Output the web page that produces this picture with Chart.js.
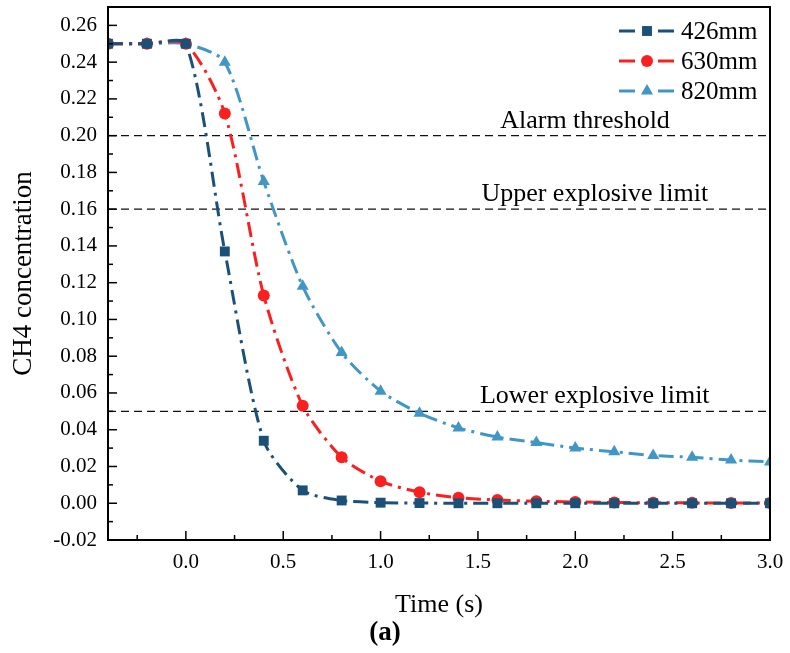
<!DOCTYPE html>
<html>
<head>
<meta charset="utf-8">
<script src="https://cdn.jsdelivr.net/npm/chart.js@4/dist/chart.umd.min.js"></script>
<style>
  html, body { margin: 0; padding: 0; background: #fff; }
  #wrap { width: 790px; height: 653px; }
</style>
</head>
<body>
<div id="wrap"><canvas id="grafico"></canvas></div>
<script>
// tiempos (s)
var tiempos = [-0.4, -0.2, 0.0, 0.2, 0.4, 0.6, 0.8, 1.0, 1.2, 1.4, 1.6, 1.8, 2.0, 2.2, 2.4, 2.6, 2.8, 3.0];
var serie426 = [0.250, 0.250, 0.250, 0.137, 0.034, 0.007, 0.0015, 0.0003, 0.0001, 0, 0, 0, 0, 0, 0, 0, 0, 0];
var serie630 = [0.250, 0.250, 0.250, 0.212, 0.113, 0.053, 0.025, 0.012, 0.006, 0.003, 0.0018, 0.0011, 0.0007, 0.0004, 0.0003, 0.0002, 0.0001, 0.0001];
var serie820 = [0.250, 0.250, 0.250, 0.240, 0.175, 0.118, 0.082, 0.061, 0.049, 0.041, 0.036, 0.033, 0.030, 0.028, 0.026, 0.025, 0.0235, 0.0225];
var etiquetas = ['426mm', '630mm', '820mm'];
var umbrales = [0.20, 0.16, 0.05];
var nombresUmbral = ['Alarm threshold', 'Upper explosive limit', 'Lower explosive limit'];
var xEtiquetaUmbral = [2.05, 2.1, 2.1];

var fuente = 'Liberation Serif, Times New Roman, serif';

function puntos(valores) {
    var res = [];
    for (var i = 0; i < tiempos.length; i++) {
        res.push({ x: tiempos[i], y: valores[i] });
    }
    return res;
}

function lineaUmbral(v) {
    return {
        data: [{ x: -0.4, y: v }, { x: 3.0, y: v }],
        borderColor: '#111',
        borderWidth: 1.3,
        borderDash: [8, 5],
        pointRadius: 0,
        tension: 0
    };
}

function serie(nombre, valores, color, estilo, radio) {
    return {
        label: nombre,
        data: puntos(valores),
        borderColor: color,
        backgroundColor: color,
        borderWidth: 3,
        borderDash: [15, 6, 3, 6],
        pointStyle: estilo,
        pointRadius: radio,
        pointBorderWidth: 0,
        tension: 0.25
    };
}

// marcas hacia adentro, marco y leyenda
var pluginDecoracion = {
    id: 'decoracion',
    afterDraw: function (chart) {
        var ctx = chart.ctx;
        var a = chart.chartArea;
        var sx = chart.scales.x, sy = chart.scales.y;
        ctx.save();
        ctx.strokeStyle = '#000';
        ctx.lineWidth = 2;
        ctx.strokeRect(a.left, a.top, a.right - a.left, a.bottom - a.top);

        ctx.lineWidth = 1.5;
        var v, p;
        for (v = -0.25; v <= 3.001; v += 0.25) {
            p = sx.getPixelForValue(v);
            var mayor = Math.abs(v * 2 - Math.round(v * 2)) < 1e-6;
            ctx.beginPath();
            ctx.moveTo(p, a.bottom);
            ctx.lineTo(p, a.bottom - (mayor ? 9 : 5));
            ctx.stroke();
        }
        for (v = -0.02; v <= 0.2601; v += 0.01) {
            p = sy.getPixelForValue(v);
            var mayorY = Math.round(v * 100) % 2 === 0;
            ctx.beginPath();
            ctx.moveTo(a.left, p);
            ctx.lineTo(a.left + (mayorY ? 9 : 5), p);
            ctx.stroke();
        }

        // textos de umbral
        ctx.fillStyle = '#000';
        ctx.font = '26px ' + fuente;
        ctx.textAlign = 'center';
        ctx.textBaseline = 'alphabetic';
        for (var i = 0; i < umbrales.length; i++) {
            ctx.fillText(nombresUmbral[i], sx.getPixelForValue(xEtiquetaUmbral[i]), sy.getPixelForValue(umbrales[i]) - 8);
        }

        // leyenda
        ctx.font = '25px ' + fuente;
        ctx.textAlign = 'left';
        ctx.textBaseline = 'middle';
        for (var j = 0; j < 3; j++) {
            var ds = chart.data.datasets[j];
            var yl = 31 + j * 30;
            var x0 = 619;
            ctx.strokeStyle = ds.borderColor;
            ctx.lineWidth = 3;
            ctx.beginPath();
            ctx.moveTo(x0, yl); ctx.lineTo(x0 + 16, yl);
            ctx.moveTo(x0 + 39, yl); ctx.lineTo(x0 + 55, yl);
            ctx.stroke();
            ctx.fillStyle = ds.backgroundColor;
            Chart.helpers.drawPoint(ctx, {
                pointStyle: ds.pointStyle, radius: ds.pointRadius, borderWidth: 0, rotation: 0
            }, x0 + 28, yl);
            ctx.fillStyle = '#000';
            ctx.fillText(ds.label, x0 + 62, yl + 1);
        }
        ctx.restore();
    }
};

function graficoCH4() {
    var datasets = [
        serie(etiquetas[0], serie426, '#1b5179', 'rect', 7),
        serie(etiquetas[1], serie630, '#fb2020', 'circle', 6),
        serie(etiquetas[2], serie820, '#4097c6', 'triangle', 7)
    ];
    for (var i = 0; i < umbrales.length; i++) {
        datasets.push(lineaUmbral(umbrales[i]));
    }

    var options = {
        responsive: false,
        animation: false,
        layout: { padding: { top: 7, right: 20, left: 0, bottom: 0 } },
        plugins: {
            legend: { display: false },
            tooltip: { enabled: false },
            title: {
                display: true,
                position: 'bottom',
                text: '(a)',
                color: '#000',
                font: { family: fuente, size: 27, weight: 'bold', lineHeight: 1 },
                padding: { top: 0, bottom: 6 }
            }
        },
        scales: {
            x: {
                type: 'linear',
                min: -0.4,
                max: 3.0,
                grid: { display: false, drawTicks: false, tickLength: 0 },
                border: { display: true, color: '#000', width: 2 },
                ticks: {
                    stepSize: 0.5,
                    includeBounds: false,
                    color: '#000',
                    padding: 10,
                    font: { family: fuente, size: 21 },
                    callback: function (v) { return v.toFixed(1); }
                },
                title: {
                    display: true,
                    text: 'Time (s)',
                    color: '#000',
                    font: { family: fuente, size: 26, lineHeight: 1 },
                    padding: { top: 0, bottom: 2 }
                },
                afterFit: function (s) {
                    s.height = 80;
                    s.paddingLeft = 0;
                    s.paddingRight = 0;
                }
            },
            y: {
                type: 'linear',
                min: -0.02,
                max: 0.27,
                grid: { display: false, drawTicks: false, tickLength: 0 },
                border: { display: true, color: '#000', width: 2 },
                ticks: {
                    stepSize: 0.02,
                    includeBounds: false,
                    color: '#000',
                    padding: 11,
                    font: { family: fuente, size: 21 },
                    callback: function (v) { return v.toFixed(2); }
                },
                title: {
                    display: true,
                    text: 'CH4 concentration',
                    color: '#000',
                    font: { family: fuente, size: 27, lineHeight: 1 },
                    padding: { top: 10, bottom: 0 }
                },
                afterFit: function (s) {
                    s.width = 108;
                    s.paddingTop = 0;
                    s.paddingBottom = 0;
                }
            }
        }
    };

    var ctx = document.getElementById('grafico').getContext('2d');
    ctx.canvas.width = 790;
    ctx.canvas.height = 653;
    var grafico = new Chart(ctx, {
        type: 'line',
        data: { datasets: datasets },
        options: options,
        plugins: [pluginDecoracion]
    });
}

graficoCH4();
</script>
</body>
</html>
